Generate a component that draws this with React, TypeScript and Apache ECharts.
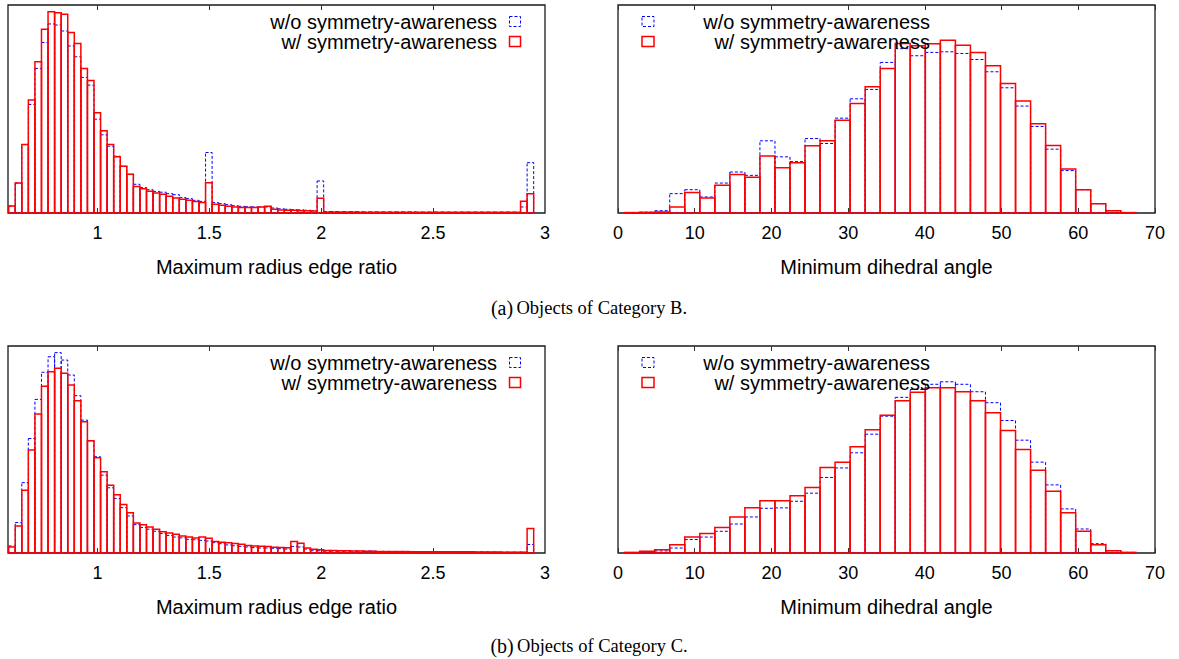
import React, { useEffect, useRef } from "react";
import * as echarts from "echarts";

// ---------- data ----------
const RATIO_BIN_START = 0.603;
const RATIO_BIN_WIDTH = 0.02933;
const ANGLE_BIN_START = 0.86;
const ANGLE_BIN_WIDTH = 1.96;

const ratioTickValues = [1, 1.5, 2, 2.5, 3];
const ratioTopTicks = [1, 1.5, 2, 2.5];

const SERIES_WO = "w/o symmetry-awareness";
const SERIES_W = "w/ symmetry-awareness";

// Category B, maximum radius edge ratio
const ratioB_wo = [
  3.4, 14.4, 32.9, 52.2, 69.5, 82.0, 90.9, 90.4, 87.5, 80.3,
  75.1, 65.2, 61.5, 45.1, 37.6, 32.1, 27.3, 22.5, 18.6, 13.8,
  12.2, 11.2, 10.4, 10.0, 9.3, 8.8, 7.4, 6.9, 6.1, 5.6,
  29.1, 5.0, 4.5, 4.0, 3.5, 3.2, 3.0, 2.9, 2.9, 2.9,
  2.4, 2.0, 1.8, 1.6, 1.5, 1.3, 1.1, 15.4, 0.7, 0.7,
  0.6, 0.6, 0.6, 0.6, 0.5, 0.5, 0.5, 0.5, 0.5, 0.5,
  0.5, 0.5, 0.4, 0.4, 0.4, 0.4, 0.4, 0.4, 0.4, 0.4,
  0.4, 0.4, 0.4, 0.4, 0.4, 0.4, 0.4, 0.4, 2.9, 24.2,
];
const ratioB_w = [
  3.4, 14.4, 32.9, 54.3, 72.7, 88.4, 96.8, 96.3, 95.5, 86.8,
  81.5, 69.5, 63.7, 48.2, 39.6, 32.9, 27.0, 22.5, 18.6, 12.8,
  11.6, 10.4, 9.6, 9.0, 8.0, 7.2, 6.6, 6.1, 5.5, 5.1,
  14.6, 4.2, 3.7, 3.2, 2.9, 2.6, 2.6, 2.6, 2.9, 3.2,
  1.8, 1.5, 1.3, 1.3, 1.1, 1.1, 1.0, 7.1, 0.4, 0.4,
  0.4, 0.4, 0.4, 0.3, 0.3, 0.3, 0.3, 0.3, 0.3, 0.3,
  0.3, 0.3, 0.3, 0.3, 0.3, 0.3, 0.3, 0.3, 0.3, 0.3,
  0.3, 0.3, 0.3, 0.3, 0.3, 0.3, 0.3, 0.3, 5.6, 9.3,
];

// Category B, minimum dihedral angle
const angleB_wo = [
  0.2, 0.4, 1.1, 9.3, 11.2, 7.7, 14.4, 19.7, 18.1, 34.7,
  27.0, 24.7, 35.8, 33.4, 45.6, 54.9, 59.4, 72.4, 79.0, 75.6,
  77.2, 77.5, 76.7, 73.8, 67.9, 60.2, 51.4, 41.6, 30.7, 20.4,
  11.2, 4.5, 1.1, 0.2,
];
const angleB_w = [
  0.2, 0.3, 0.5, 2.9, 9.8, 7.2, 13.3, 18.5, 17.2, 27.4,
  21.8, 24.2, 32.3, 34.7, 44.6, 52.6, 60.7, 69.5, 81.5, 80.4,
  81.4, 83.0, 80.6, 77.2, 70.8, 62.3, 53.8, 42.9, 32.4, 21.2,
  11.2, 4.5, 1.1, 0.2,
];

// Category C, maximum radius edge ratio
const ratioC_wo = [
  3.4, 14.7, 34.0, 55.3, 74.2, 87.3, 94.8, 96.8, 93.2, 86.0,
  76.0, 64.2, 54.2, 46.5, 37.6, 31.5, 26.3, 21.9, 17.9, 13.7,
  12.3, 11.5, 10.5, 9.4, 8.5, 7.7, 7.3, 6.6, 6.4, 6.1,
  5.8, 5.0, 4.5, 3.9, 3.5, 3.2, 2.9, 2.6, 2.4, 2.4,
  2.3, 2.1, 1.9, 3.2, 2.9, 1.9, 1.1, 1.1, 0.9, 0.9,
  0.9, 0.9, 0.9, 0.9, 0.9, 0.9, 0.6, 0.6, 0.6, 0.5,
  0.5, 0.5, 0.5, 0.5, 0.5, 0.5, 0.4, 0.4, 0.4, 0.4,
  0.4, 0.4, 0.4, 0.3, 0.3, 0.3, 0.3, 0.3, 0.3, 4.1,
];
const ratioC_w = [
  2.9, 13.1, 30.3, 49.7, 67.1, 80.6, 87.6, 89.2, 86.8, 81.1,
  73.5, 63.4, 54.2, 46.0, 39.2, 32.7, 28.2, 23.4, 19.4, 14.5,
  13.7, 12.6, 11.5, 10.3, 9.7, 9.0, 8.2, 7.7, 7.2, 7.7,
  7.1, 5.6, 5.2, 4.9, 4.6, 4.2, 3.6, 3.4, 3.3, 3.1,
  2.8, 2.6, 2.5, 5.5, 4.7, 2.4, 1.8, 1.6, 1.2, 1.2,
  1.1, 1.1, 1.0, 1.0, 0.9, 0.9, 0.7, 0.7, 0.7, 0.7,
  0.7, 0.6, 0.6, 0.6, 0.6, 0.6, 0.6, 0.6, 0.6, 0.6,
  0.6, 0.5, 0.5, 0.5, 0.5, 0.4, 0.4, 0.4, 0.4, 11.8,
];

// Category C, minimum dihedral angle
const angleC_wo = [
  0.2, 0.5, 1.0, 2.4, 6.5, 7.7, 10.5, 14.0, 17.4, 21.6,
  21.8, 25.0, 28.9, 36.5, 41.1, 48.4, 57.4, 66.1, 75.2, 79.0,
  81.5, 82.7, 81.5, 77.9, 72.6, 64.0, 54.5, 43.9, 32.9, 21.3,
  11.6, 4.5, 1.1, 0.3,
];
const angleC_w = [
  0.3, 0.8, 1.6, 4.0, 7.7, 9.4, 12.3, 17.4, 21.8, 25.3,
  25.2, 27.7, 31.6, 41.3, 43.9, 51.3, 59.5, 66.5, 73.5, 77.6,
  79.8, 79.8, 77.9, 73.5, 67.7, 59.2, 50.0, 40.0, 29.8, 19.4,
  10.5, 4.0, 1.1, 0.3,
];

// ---------- helpers ----------
const toBins = (values: number[], start: number, width: number) =>
  values.map((v, i) => [start + i * width, start + (i + 1) * width, v]);

const BLUE = "#0000ff";
const RED = "#ff0000";
const SANS = "Liberation Sans, Arial, Helvetica, sans-serif";
const SERIF = "Liberation Serif, Times New Roman, serif";

const histRender =
  (stroke: string, lineWidth: number, dash: number[] | null) =>
  (_params: any, api: any) => {
    const x0 = api.value(0);
    const x1 = api.value(1);
    const y = api.value(2);
    const b = api.coord([x0, 0]);
    const t = api.coord([x1, y]);
    return {
      type: "rect",
      shape: { x: b[0], y: t[1], width: t[0] - b[0], height: b[1] - t[1] },
      style: {
        fill: "none",
        stroke,
        lineWidth,
        lineDash: dash || undefined,
      },
    };
  };

const panels = [
  { kind: "ratio", wo: ratioB_wo, w: ratioB_w, grid: { left: 8, top: 5, width: 537, height: 208 } },
  { kind: "angle", wo: angleB_wo, w: angleB_w, grid: { left: 618, top: 5, width: 537, height: 208 } },
  { kind: "ratio", wo: ratioC_wo, w: ratioC_w, grid: { left: 8, top: 346, width: 537, height: 207 } },
  { kind: "angle", wo: angleC_wo, w: angleC_w, grid: { left: 618, top: 346, width: 537, height: 207 } },
];

function buildOption() {
  const grid: any[] = [];
  const xAxis: any[] = [];
  const yAxis: any[] = [];
  const series: any[] = [];
  const graphic: any[] = [];

  panels.forEach((p, i) => {
    grid.push({
      ...p.grid,
      show: true,
      borderColor: "#1a1a1a",
      borderWidth: 1.3,
      backgroundColor: "transparent",
      containLabel: false,
    });
    const isRatio = p.kind === "ratio";
    const common = {
      type: "value",
      gridIndex: i,
      min: isRatio ? 0.6 : 0,
      max: isRatio ? 3 : 70,
      splitLine: { show: false },
      axisLine: { show: false },
    };
    xAxis.push({
      ...common,
      position: "bottom",
      ...(isRatio ? {} : { interval: 10 }),
      axisTick: {
        show: true,
        inside: true,
        length: 5,
        lineStyle: { color: "#333", width: 1 },
        ...(isRatio ? { customValues: ratioTopTicks } : {}),
      },
      axisLabel: {
        show: true,
        color: "#000",
        fontSize: 18,
        fontFamily: SANS,
        margin: 11,
        showMinLabel: true,
        showMaxLabel: true,
        ...(isRatio ? { customValues: ratioTickValues } : {}),
      },
      name: isRatio ? "Maximum radius edge ratio" : "Minimum dihedral angle",
      nameLocation: "middle",
      nameGap: 44,
      nameTextStyle: { color: "#000", fontSize: 20, fontFamily: SANS },
    });
    yAxis.push({ type: "value", gridIndex: i, min: 0, max: 100, show: false });
  });
  // top mirror axes (ticks only)
  panels.forEach((p, i) => {
    const isRatio = p.kind === "ratio";
    xAxis.push({
      type: "value",
      gridIndex: i,
      position: "top",
      min: isRatio ? 0.6 : 0,
      max: isRatio ? 3 : 70,
      ...(isRatio ? {} : { interval: 10 }),
      splitLine: { show: false },
      axisLine: { show: false },
      axisLabel: { show: false },
      axisTick: {
        show: true,
        inside: true,
        length: 5,
        lineStyle: { color: "#333", width: 1 },
        ...(isRatio ? { customValues: ratioTopTicks } : {}),
      },
    });
  });

  panels.forEach((p, i) => {
    const isRatio = p.kind === "ratio";
    const start = isRatio ? RATIO_BIN_START : ANGLE_BIN_START;
    const width = isRatio ? RATIO_BIN_WIDTH : ANGLE_BIN_WIDTH;
    series.push({
      type: "custom",
      name: SERIES_WO,
      xAxisIndex: i,
      yAxisIndex: i,
      renderItem: histRender(BLUE, 1, [3, 2]),
      encode: { x: [0, 1], y: 2 },
      data: toBins(p.wo, start, width),
      z: 2,
    });
    series.push({
      type: "custom",
      name: SERIES_W,
      xAxisIndex: i,
      yAxisIndex: i,
      renderItem: histRender(RED, 1.5, null),
      encode: { x: [0, 1], y: 2 },
      data: toBins(p.w, start, width),
      z: 3,
    });

    // legend (gnuplot-style key)
    const g = p.grid;
    const rowY = [g.top + 16.5, g.top + 36.5];
    const labels = [SERIES_WO, SERIES_W];
    const strokes = [
      { stroke: BLUE, lineWidth: 1, lineDash: [3, 2] },
      { stroke: RED, lineWidth: 1.5, lineDash: null },
    ];
    labels.forEach((lab, k) => {
      if (isRatio) {
        graphic.push({
          type: "text",
          z: 100,
          x: g.left + 489,
          y: rowY[k],
          style: {
            text: lab,
            align: "right",
            verticalAlign: "middle",
            fontSize: 20,
            fontFamily: SANS,
            fill: "#000",
          },
        });
        graphic.push({
          type: "rect",
          z: 100,
          shape: { x: g.left + 501.5, y: rowY[k] - 5, width: 11, height: 10 },
          style: { fill: "none", ...strokes[k] },
        });
      } else {
        graphic.push({
          type: "text",
          z: 100,
          x: g.left + 312,
          y: rowY[k],
          style: {
            text: lab,
            align: "right",
            verticalAlign: "middle",
            fontSize: 20,
            fontFamily: SANS,
            fill: "#000",
          },
        });
        graphic.push({
          type: "rect",
          z: 100,
          shape: { x: g.left + 24, y: rowY[k] - 5, width: 12, height: 10 },
          style: { fill: "none", ...strokes[k] },
        });
      }
    });
  });

  const captions = [
    { tag: "(a)", text: "Objects of Category B.", y: 308 },
    { tag: "(b)", text: "Objects of Category C.", y: 646 },
  ];
  captions.forEach((c) => {
    graphic.push({
      type: "text",
      z: 100,
      x: 589,
      y: c.y,
      style: {
        text: `{a|${c.tag}} {b|${c.text}}`,
        align: "center",
        verticalAlign: "middle",
        fill: "#000",
        rich: {
          a: { fontSize: 20, fontFamily: SERIF, fill: "#000" },
          b: { fontSize: 18.5, fontFamily: SERIF, fill: "#000" },
        },
      },
    });
  });

  return {
    animation: false,
    backgroundColor: "#ffffff",
    grid,
    xAxis,
    yAxis,
    series,
    graphic,
  };
}

export default function App() {
  const ref = useRef<HTMLDivElement>(null);
  useEffect(() => {
    if (!ref.current) return;
    const chart = echarts.init(ref.current, undefined, { renderer: "svg" });
    chart.setOption(buildOption() as any);
    return () => chart.dispose();
  }, []);
  return (
    <div
      ref={ref}
      style={{ position: "absolute", left: 0, top: 0, width: 1179, height: 659, background: "#fff" }}
    />
  );
}
